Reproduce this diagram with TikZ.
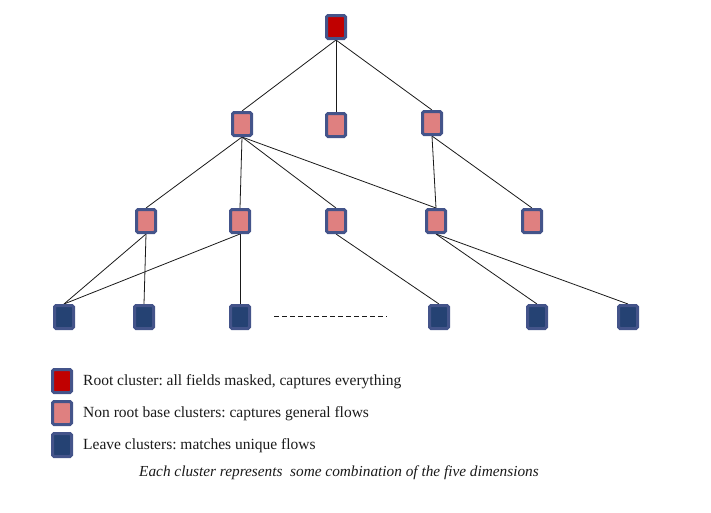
\documentclass[tikz,border=0pt]{standalone}
\usepackage{fontspec}
\setmainfont{Liberation Serif}
\usepackage{xcolor}
\usepackage{tikz}
\usetikzlibrary{backgrounds}
\definecolor{inkK}{HTML}{1A1A1A}
\definecolor{cFrame}{HTML}{44548A}
\definecolor{cRoot}{HTML}{C00000}
\definecolor{cBase}{HTML}{DF8080}
\definecolor{cLeaf}{HTML}{254273}
\frenchspacing
\tikzset{
  clusterbox/.style={draw=cFrame, line width=3pt, rounded corners=1.5pt,
    minimum width=19pt, minimum height=23pt, inner sep=0pt},
  rootbox/.style={clusterbox, fill=cRoot},
  basebox/.style={clusterbox, fill=cBase},
  leafbox/.style={clusterbox, fill=cLeaf},
  link/.style={draw=inkK, line width=0.8pt},
  keytext/.style={anchor=west, inner sep=0pt, font=\fontsize{15.5}{17}\selectfont, text=inkK}
}

\begin{document}
\begin{tikzpicture}[x=1pt, y=-1pt]
  \useasboundingbox (0,0) rectangle (711,512);
  \node[rootbox] (root) at (336,27) {};
  \node[basebox] (midA) at (242,124) {};
  \node[basebox] (midB) at (336,125) {};
  \node[basebox] (midC) at (432,123) {};
  \node[basebox] (baseA) at (146,221) {};
  \node[basebox] (baseB) at (240,221) {};
  \node[basebox] (baseC) at (336,221) {};
  \node[basebox] (baseD) at (436,221) {};
  \node[basebox] (baseE) at (532,221) {};
  \node[leafbox] (leafA) at (64,317) {};
  \node[leafbox] (leafB) at (144,317) {};
  \node[leafbox] (leafC) at (240,317) {};
  \node[leafbox] (leafD) at (439,317) {};
  \node[leafbox] (leafE) at (537,317) {};
  \node[leafbox] (leafF) at (628,317) {};
  \coordinate (dashL) at (274,316);
  \coordinate (dashR) at (387,316);
  \draw[inkK, line width=0.8pt, dash pattern=on 5pt off 3pt] (dashL) -- (dashR);
  \begin{scope}[on background layer]
    \foreach \up/\down in {root/midA, root/midB, root/midC,
      midA/baseA, midA/baseB, midA/baseC, midA/baseD, midC/baseD, midC/baseE,
      baseA/leafA, baseA/leafB, baseB/leafA, baseB/leafC, baseC/leafD,
      baseD/leafE, baseD/leafF}
      \draw[link] (\up.south) -- (\down.north);
  \end{scope}
  \node[rootbox] (keyRoot) at (62,381) {};
  \node[basebox] (keyBase) at (62,413) {};
  \node[leafbox] (keyLeaf) at (62,445) {};
  \node[keytext] (txtRoot) at (83,382) {Root cluster: all fields masked, captures everything};
  \node[keytext] (txtBase) at (83,414) {Non root base clusters: captures general flows};
  \node[keytext] (txtLeaf) at (83,446) {Leave clusters: matches unique flows};
  \node[inner sep=0pt, font=\fontsize{15.3}{17}\selectfont\itshape, text=inkK] (caption) at (339,473)
    {Each cluster represents\ \ some combination of the five dimensions};
\end{tikzpicture}
\end{document}
